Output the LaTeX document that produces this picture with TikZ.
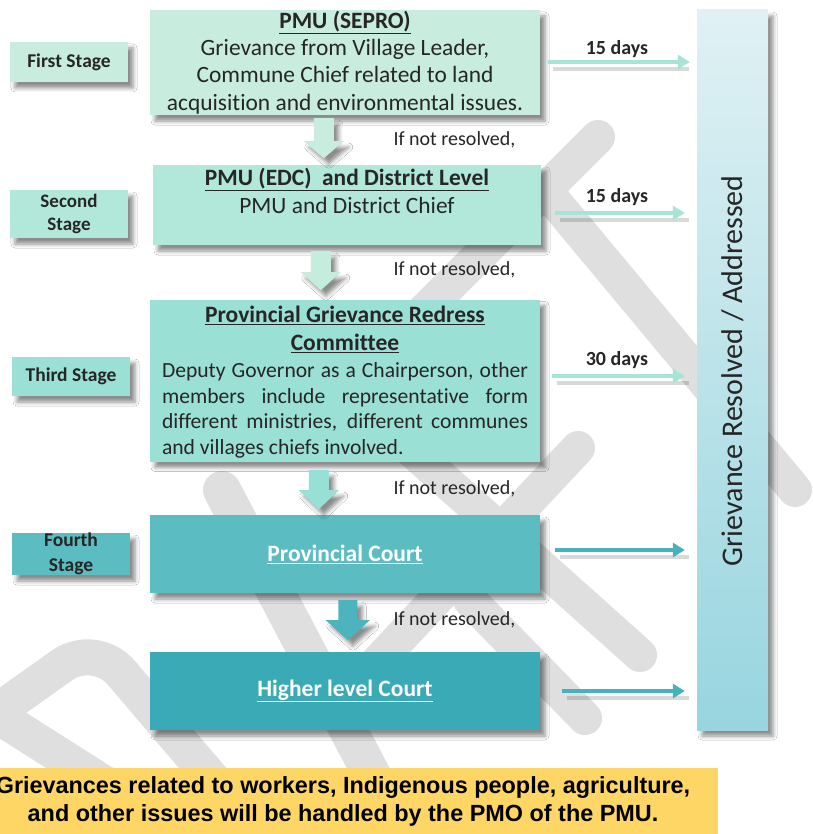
\documentclass[tikz,border=0pt]{standalone}
\usepackage{fontspec}
\setmainfont{Carlito}[Ligatures=CommonOff]
\newfontfamily\arialf{Liberation Sans}
\usetikzlibrary{calc,arrows.meta,shadows.blur}
\definecolor{cA}{RGB}{200,236,221}
\definecolor{cB}{RGB}{178,232,218}
\definecolor{cC}{RGB}{155,224,213}
\definecolor{cD}{RGB}{91,189,194}
\definecolor{cE}{RGB}{58,170,182}
\definecolor{arA}{RGB}{200,237,222}
\definecolor{arB}{RGB}{196,237,222}
\definecolor{arC}{RGB}{150,224,214}
\definecolor{arD}{RGB}{76,180,189}
\definecolor{rlight}{RGB}{165,228,215}
\definecolor{rdark}{RGB}{70,178,188}
\definecolor{bartop}{RGB}{224,241,244}
\definecolor{barbot}{RGB}{152,213,223}
\definecolor{yel}{RGB}{254,214,102}
\definecolor{txt}{RGB}{38,38,38}
\definecolor{wmark}{RGB}{223,223,223}
\begin{document}
\begin{tikzpicture}[x=1pt,y=-1pt,
  shad/.style={blur shadow={shadow xshift=5pt,shadow yshift=-6pt,shadow blur radius=4pt,shadow opacity=45}},
  mainbox/.style={shad,inner sep=0pt,minimum width=390pt},
  boxtext/.style={align=center,text=txt,inner sep=0pt},
  stagebox/.style={shad,inner sep=0pt,align=center,text=txt,minimum width=118pt,
     font=\bfseries\fontsize{19.5}{24}\selectfont},
  note/.style={text=txt,anchor=west,font=\fontsize{20}{24}\selectfont},
  days/.style={text=txt,font=\bfseries\fontsize{20}{24}\selectfont},
  rarrow/.style={line width=4.5pt,-{Triangle[length=12pt,width=14pt]}},
  rshadow/.style={line width=5pt,black,opacity=0.15},
  wmstroke/.style={wmark,line width=34pt,line cap=round,line join=round},
]
\useasboundingbox (0,0) rectangle (812,834);
\fill[white] (0,0) rectangle (812,834);

% watermark strokes (DRAFT)
\draw[wmstroke] (598,137) -- (420,315);
\draw[wmstroke] (545,190) -- (795,490);
\draw[wmstroke] (578,448) -- (370,670);
\draw[wmstroke] (400,440) -- (640,655);
\draw[wmstroke] (470,600) -- (585,718);
\draw[wmstroke,line width=38pt] (222,490) -- (385,800);
\draw[wmstroke,line width=36pt,rounded corners=40pt] (-60,752) -- (95,642) -- (230,800);
\draw[wmstroke,line width=36pt] (-40,692) -- (130,800);

% stage labels
\node[stagebox,fill=cA,minimum height=40pt] (s1) at (69,62) {First Stage};
\node[stagebox,fill=cB,minimum height=48pt,font=\bfseries\fontsize{19}{23}\selectfont] (s2) at (69,214) {Second\\Stage};
\node[stagebox,fill=cC,minimum height=39pt] (s3) at (71,376.5) {Third Stage};
\node[stagebox,fill=cD,minimum height=40pt,font=\bfseries\fontsize{19.5}{25}\selectfont] (s4) at (71,554) {Fourth\\Stage};

% main boxes
\node[mainbox,fill=cA,minimum height=105pt] (b1) at (345,62.5) {};
\node[mainbox,fill=cB,minimum width=388pt,minimum height=80pt] (b2) at (347,205) {};
\node[mainbox,fill=cC,minimum height=162pt] (b3) at (345,380.5) {};
\node[mainbox,fill=cD,minimum height=78pt] (b4) at (345,554) {};
\node[mainbox,fill=cE,minimum height=78pt] (b5) at (345,691) {};

\node[boxtext,font=\fontsize{23.4}{27.4}\selectfont] (b1t) at (b1.center)
  {\textbf{\underline{PMU (SEPRO)}}\\Grievance from Village Leader,\\Commune Chief related to land\\acquisition and environmental issues.};
\node[boxtext,font=\fontsize{23.4}{28}\selectfont] (b2t) at ($(b2.north)+(0,26)$)
  {\textbf{\underline{PMU (EDC)\ \ and District Level}}\\PMU and District Chief};
\node[boxtext,font=\bfseries\fontsize{23.5}{28}\selectfont] (b3t) at ($(b3.north)+(0,30)$)
  {\underline{Provincial Grievance Redress}\\\underline{Committee}};
\node[boxtext] (b3body) at ($(b3.north)+(0,111)$)
  {\begin{minipage}{366pt}\fontsize{21.6}{25.8}\selectfont
   \makebox[366pt][s]{Deputy Governor as a Chairperson, other}\\
   \makebox[366pt][s]{members include representative form}\\
   {\spaceskip=3.3pt plus 10pt minus 1pt\makebox[366pt][s]{different ministries, different communes}}\\
   \makebox[366pt][l]{and villages chiefs involved.}\end{minipage}};
\node[boxtext,text=white,font=\bfseries\fontsize{23.5}{28}\selectfont] (b4t) at (b4.center)
  {\underline{Provincial Court}};
\node[boxtext,text=white,font=\bfseries\fontsize{23.5}{28}\selectfont] (b5t) at (b5.center)
  {\underline{Higher level Court}};

% right bar
\node[shad,inner sep=0pt,minimum width=71pt,minimum height=720pt,top color=bartop,bottom color=barbot] (bar) at (732.5,370) {};
\node[rotate=90,text=txt,font=\fontsize{30}{30}\selectfont] (bartext) at (733,371) {Grievance Resolved / Addressed};

% down block arrows
\newcommand{\blockdown}[6]{% coord, half shaft, half head, head start, length, colour
  \fill[#6,shad] ($(#1)+(-#2,0)$) -- ($(#1)+(#2,0)$) -- ($(#1)+(#2,#4)$) -- ($(#1)+(#3,#4)$)
     -- ($(#1)+(0,#5)$) -- ($(#1)+(-#3,#4)$) -- ($(#1)+(-#2,#4)$) -- cycle;}
\coordinate (d1) at ($(b1.south west)+(174,3)$);
\coordinate (d2) at ($(b2.south west)+(168,6)$);
\coordinate (d3) at ($(b3.south west)+(169,8.5)$);
\coordinate (d4) at ($(b4.south west)+(198,7)$);
\blockdown{d1}{10}{20}{23}{40}{arA}
\blockdown{d2}{10}{20}{21}{39}{arB}
\blockdown{d3}{10}{20}{20}{39}{arC}
\blockdown{d4}{9.5}{22}{20}{40}{arD}

\node[note] (n1) at (390,140) {If not resolved,};
\node[note] (n2) at (390,270) {If not resolved,};
\node[note] (n3) at (390,489) {If not resolved,};
\node[note] (n4) at (390,620) {If not resolved,};

% right arrows
\coordinate (e1) at ($(b1.east)+(8,-0.5)$);
\coordinate (e2) at ($(b2.east)+(14,8)$);
\coordinate (e3) at ($(b3.east)+(12,-4.5)$);
\coordinate (e4) at ($(b4.east)+(15,-4)$);
\coordinate (e5) at ($(b5.east)+(22,0)$);
\foreach \e/\s/\c/\w in {e1/7/rlight/4.5,e2/12/rlight/4.5,e3/12/rlight/4.5,e4/12/rdark/3.5,e5/12/rdark/3.5}{
  \draw[rshadow,line width=\w pt] ($(\e)+(5,7)$) -- ($(\e -| bar.west)+(-8,7)$);
  \draw[rarrow,\c,line width=\w pt] (\e) -- ($(\e -| bar.west)+(-\s,0)$);
}
\node[days] (t1) at (617,49) {15 days};
\node[days] (t2) at (617,197) {15 days};
\node[days] (t3) at (617,360) {30 days};

% bottom note
\node[fill=yel,inner sep=0pt,minimum width=718pt,minimum height=66pt,anchor=north west] (yb) at (0,768) {};
\node[text=black,align=center,font=\arialf\bfseries\fontsize{23.4}{28}\selectfont] (yt) at (343,801)
  {Grievances related to workers, Indigenous people, agriculture,\\and other issues will be handled by the PMO of the PMU.};
\end{tikzpicture}
\end{document}
